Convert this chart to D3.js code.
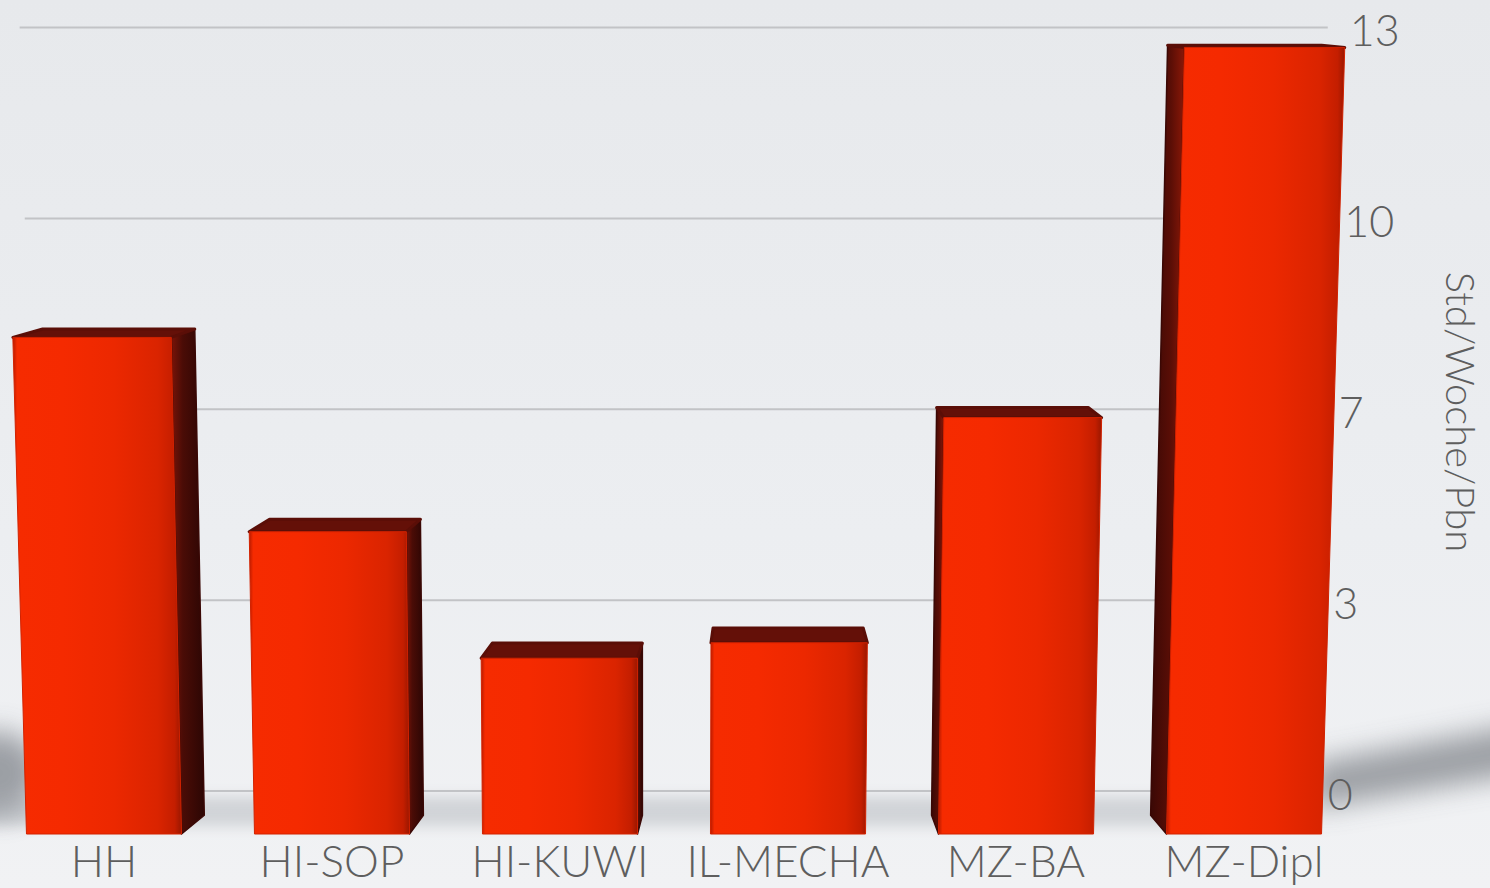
<!DOCTYPE html>
<html><head><meta charset="utf-8">
<script src="https://cdn.jsdelivr.net/npm/d3@7"></script>
<style>html,body{margin:0;padding:0;background:#eceef1;overflow:hidden}</style>
</head><body><svg id="c" width="1490" height="888"></svg>
<script>
const categories = ["HH","HI-SOP","HI-KUWI","IL-MECHA","MZ-BA","MZ-Dipl"];
const values = [8.05, 4.9, 2.85, 3.1, 6.75, 12.75];
const tickValues = [0, 3.25, 6.5, 9.75, 13];
const tickLabels = ["0","3","7","10","13"];
const axisTitle = "Std/Woche/Pbn";

const W = 1490, H = 888;
const FLOOR = 834;
const VX = 760, VY = -60, S_WALL = 0.952;
const S_BACK_X = 0.96, S_BACK_Y = 0.979;
const XC = 650, LEAN = 4.4e-5;
const WALL_L = 5, WALL_R = 1332;
const FONT = "Lato, 'Open Sans', sans-serif";
const TXT = "#5e5e5e";

const x = d3.scaleBand().domain(categories).range([-10, 1358]).paddingInner(0.32).paddingOuter(0.16);
const y = d3.scaleLinear().domain([0, 13]).range([FLOOR, 32]);

function P(px, py, sx, sy) {
  if (sy === undefined) sy = sx;
  let X = VX + (px - VX) * sx, Y = VY + (py - VY) * sy;
  const f = 1 + LEAN * (FLOOR - Y);
  X = XC + (X - XC) * f;
  return [X, Y];
}
const line = d3.line();

const svg = d3.select("#c");
const defs = svg.append("defs");

const bg = defs.append("linearGradient").attr("id", "bg").attr("x1", 0).attr("y1", 0).attr("x2", 0).attr("y2", 1);
bg.append("stop").attr("offset", 0).attr("stop-color", "#e7e9ec");
bg.append("stop").attr("offset", 0.6).attr("stop-color", "#eceef1");
bg.append("stop").attr("offset", 1).attr("stop-color", "#f1f2f4");

const fg = defs.append("linearGradient").attr("id", "front").attr("x1", 0).attr("y1", 0).attr("x2", 1).attr("y2", 0);
[[0, "#b81a00"], [0.025, "#f62b00"], [0.3, "#f52a00"], [0.6, "#ec2800"], [0.86, "#da2400"], [0.96, "#c41e00"], [1, "#9a1700"]]
  .forEach(d => fg.append("stop").attr("offset", d[0]).attr("stop-color", d[1]));

const sr = defs.append("linearGradient").attr("id", "sideR").attr("x1", 0).attr("y1", 0).attr("x2", 1).attr("y2", 0);
[[0, "#7a1408"], [0.35, "#4a0c06"], [1, "#2c0604"]].forEach(d => sr.append("stop").attr("offset", d[0]).attr("stop-color", d[1]));
const sl = defs.append("linearGradient").attr("id", "sideL").attr("x1", 0).attr("y1", 0).attr("x2", 1).attr("y2", 0);
[[0, "#3a0805"], [0.6, "#5a0e06"], [1, "#8a1808"]].forEach(d => sl.append("stop").attr("offset", d[0]).attr("stop-color", d[1]));

const blur = defs.append("filter").attr("id", "blur").attr("x", "-50%").attr("y", "-50%").attr("width", "200%").attr("height", "200%");
blur.append("feGaussianBlur").attr("stdDeviation", 14);
const blur2 = defs.append("filter").attr("id", "blur2").attr("x", "-50%").attr("y", "-50%").attr("width", "200%").attr("height", "200%");
blur2.append("feGaussianBlur").attr("stdDeviation", 7);

svg.append("rect").attr("width", W).attr("height", H).attr("fill", "url(#bg)");

// shadows
const bw = x.bandwidth();
const first = categories[0], last = categories[categories.length - 1];
const wall0 = P(WALL_R, y(0), S_WALL)[1];
const sh = svg.append("g");
sh.append("rect").attr("x", -40).attr("y", wall0 + 6).attr("width", P(x(last), FLOOR, 1)[0] + 80).attr("height", FLOOR - wall0 - 14)
  .attr("fill", "#a2a7ad").attr("opacity", 0.4).attr("filter", "url(#blur2)");
sh.append("ellipse").attr("cx", x(first) - 30).attr("cy", wall0 - 18).attr("rx", 45).attr("ry", 42)
  .attr("fill", "#8d9197").attr("opacity", 0.85).attr("filter", "url(#blur)");
const lx = P(x(last) + bw, FLOOR, 1)[0];
sh.append("path").attr("d", line([[lx - 10, wall0 - 28], [lx - 10, wall0 + 18], [W + 60, wall0 - 22], [W + 60, wall0 - 72]]) + "Z")
  .attr("fill", "#8e9297").attr("opacity", 0.85).attr("filter", "url(#blur)");

// gridlines
const grid = svg.append("g");
tickValues.forEach((t, i) => {
  const a = P(WALL_L, y(t), S_WALL), b = P(WALL_R, y(t), S_WALL);
  grid.append("path").attr("d", line([a, b])).attr("stroke", "#c2c3c6").attr("stroke-width", 2).attr("fill", "none");
  grid.append("text").attr("x", b[0] + 22).attr("y", b[1] + 2).attr("dominant-baseline", "central")
    .attr("font-family", FONT).attr("font-weight", 300).attr("font-size", 43).attr("fill", TXT).text(tickLabels[i]);
});

// bars
const bars = svg.append("g");
categories.forEach((c, i) => {
  const x0 = x(c), x1 = x0 + bw, yt = y(values[i]), yb = FLOOR;
  const FTL = P(x0, yt, 1), FTR = P(x1, yt, 1), FBR = P(x1, yb, 1), FBL = P(x0, yb, 1);
  const BTL = P(x0, yt, S_BACK_X, S_BACK_Y), BTR = P(x1, yt, S_BACK_X, S_BACK_Y),
        BBR = P(x1, yb, S_BACK_X, S_BACK_Y), BBL = P(x0, yb, S_BACK_X, S_BACK_Y);
  const g = bars.append("g");
  if (x1 < VX) {
    g.append("path").attr("d", line([FTR, BTR, BBR, FBR]) + "Z").attr("fill", "url(#sideR)")
      .attr("stroke", "#3a0805").attr("stroke-width", 1.5).attr("stroke-linejoin", "round");
  } else if (x0 > VX) {
    g.append("path").attr("d", line([FTL, BTL, BBL, FBL]) + "Z").attr("fill", "url(#sideL)")
      .attr("stroke", "#3a0805").attr("stroke-width", 1.5).attr("stroke-linejoin", "round");
  }
  g.append("path").attr("d", line([FTL, FTR, BTR, BTL]) + "Z").attr("fill", "#641008")
    .attr("stroke", "#5a0e07").attr("stroke-width", 3).attr("stroke-linejoin", "round");
  g.append("path").attr("d", line([FTL, FTR, FBR, FBL]) + "Z").attr("fill", "url(#front)")
    .attr("stroke", "#d22200").attr("stroke-width", 1).attr("stroke-linejoin", "round");
  g.append("text").attr("x", (x0 + x1) / 2).attr("y", 877).attr("text-anchor", "middle")
    .attr("font-family", FONT).attr("font-weight", 300).attr("font-size", 44).attr("fill", TXT).text(c);
});

// axis title
svg.append("text").attr("transform", "translate(1446,412) rotate(90)").attr("text-anchor", "middle")
  .attr("font-family", FONT).attr("font-weight", 300).attr("font-size", 40).attr("fill", TXT).text(axisTitle);
</script></body></html>
